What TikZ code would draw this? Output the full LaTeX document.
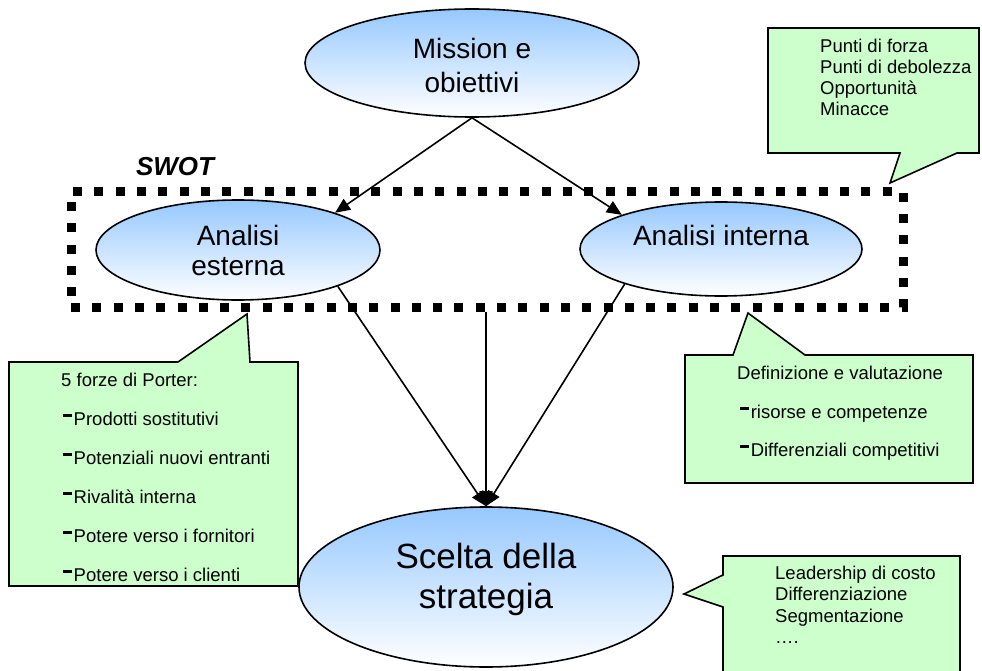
\documentclass[tikz,border=0pt]{standalone}
\usepackage{fontspec}
\setmainfont{Liberation Sans}
\usetikzlibrary{shapes.geometric,arrows.meta}
\definecolor{blueT}{RGB}{150,200,255}
\definecolor{callgreen}{RGB}{204,255,204}
\newcommand\cbul{\rule[0.45em]{0.45em}{0.13em}\hspace{0.12em}}
\begin{document}
\begin{tikzpicture}[x=1pt,y=-1pt,
  ell/.style={ellipse, draw=black, line width=1.6pt, top color=blueT, bottom color=white, inner sep=0pt},
  bigtxt/.style={font=\fontsize{28}{34}\selectfont, align=center, inner sep=0pt},
  ctxt/.style={font=\fontsize{18.5}{21}\selectfont, anchor=base west, inner sep=0pt},
  callout/.style={draw=black, line width=1.6pt, fill=callgreen, line join=miter},
  arr/.style={line width=1.6pt, -{Triangle[length=15pt,width=13pt]}},
  swotbox/.style={draw=black, line width=9pt, dash pattern=on 9pt off 12.3pt, inner sep=0pt}
]
\useasboundingbox (0,0) rectangle (982,671);
\clip (0,0) rectangle (982,671);
\fill[white] (0,0) rectangle (982,671);

% SWOT box
\node[swotbox, minimum width=832pt, minimum height=115pt] (swot) at (487,249.5) {};
\node[font=\fontsize{26}{26}\selectfont\bfseries\itshape, inner sep=0pt] (swotlbl) at (175,167) {SWOT};

% ellipses
\node[ell, minimum width=334pt, minimum height=108pt] (mission) at (472,63) {};
\node[bigtxt] (missiontxt) at (472,65) {Mission e\\obiettivi};

\node[ell, minimum width=284pt, minimum height=100pt] (ae) at (238,250) {};
\node[bigtxt, font=\fontsize{28}{30}\selectfont] (aetxt) at (238,250) {Analisi\\esterna};

\node[ell, minimum width=282pt, minimum height=94pt] (ai) at (721,249) {};
\node[bigtxt] (aitxt) at (721,235) {Analisi interna};

\node[ell, minimum width=374pt, minimum height=160pt] (sc) at (486,587) {};
\node[bigtxt, font=\fontsize{35}{40}\selectfont] (sctxt) at (486,579) {Scelta della\\strategia};

% arrows
\draw[arr] (mission.south) -- (ae.21);
\draw[arr] (mission.south) -- (ai.161);
\draw[arr] (ae.-20) -- (sc.north);
\draw[arr] (ai.200) -- (sc.north);
\draw[arr] (swot.south -| sc.north) -- (sc.north);

% callout top right
\draw[callout] (768,28) -- (979,28) -- (979,153) -- (957,153) -- (890,183) -- (900,153) -- (768,153) -- cycle;
\node[ctxt] (tr1) at (820,53) {Punti di forza};
\node[ctxt] (tr2) at (820,74) {Punti di debolezza};
\node[ctxt] (tr3) at (820,95) {Opportunità};
\node[ctxt] (tr4) at (820,116) {Minacce};

% callout left
\draw[callout] (9,362) -- (178,362) -- (247,314) -- (250,362) -- (298,362) -- (298,586) -- (9,586) -- cycle;
\node[ctxt] (l0) at (61,386) {5 forze di Porter:};
\node[ctxt] (l1) at (63,425) {\cbul Prodotti sostitutivi};
\node[ctxt] (l2) at (63,464) {\cbul Potenziali nuovi entranti};
\node[ctxt] (l3) at (63,503) {\cbul Rivalità interna};
\node[ctxt] (l4) at (63,542) {\cbul Potere verso i fornitori};
\node[ctxt] (l5) at (63,581) {\cbul Potere verso i clienti};

% callout middle right
\draw[callout] (685,355) -- (733,355) -- (748,313) -- (805,355) -- (973,355) -- (973,483) -- (685,483) -- cycle;
\node[ctxt] (m0) at (737,379) {Definizione e valutazione};
\node[ctxt] (m1) at (740,418) {\cbul risorse e competenze};
\node[ctxt] (m2) at (740,456) {\cbul Differenziali competitivi};

% callout bottom right
\draw[callout] (723,556) -- (960,556) -- (960,700) -- (723,700) -- (723,607) -- (684,594) -- (723,575) -- cycle;
\node[ctxt] (b1) at (775,579) {Leadership di costo};
\node[ctxt] (b2) at (775,600.5) {Differenziazione};
\node[ctxt] (b3) at (775,622) {Segmentazione};
\node[ctxt] (b4) at (775,643.5) {….};
\end{tikzpicture}
\end{document}
